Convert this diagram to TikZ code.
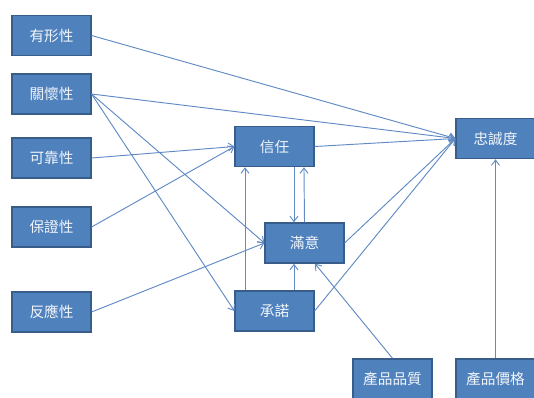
\documentclass[tikz,border=0pt]{standalone}
\usepackage{fontspec}
\newfontfamily\cjk{Noto Sans CJK TC}[Scale=1]
\usetikzlibrary{arrows.meta}
\definecolor{boxfill}{RGB}{79,129,189}
\definecolor{boxline}{RGB}{56,93,138}
\definecolor{arrowc}{RGB}{95,138,196}
\tikzset{
  blok/.style={draw=boxline,line width=1.1pt,fill=boxfill,text=white!92!boxfill,
    minimum width=59pt,minimum height=30pt,inner sep=0pt,font=\cjk\fontsize{11}{13}\selectfont},
  pijl/.style={draw=arrowc,line width=0.7pt,-{Straight Barb[length=4pt,width=6pt]}}
}
\begin{document}
\begin{tikzpicture}[x=0.75pt,y=0.75pt,yscale=-1,xscale=1]
\useasboundingbox (0,0) rectangle (534,397);

% Text Node
\node[blok] (yxx) at (51.5,35.5) {有形性};
% Text Node
\node[blok] (ghx) at (51.5,94) {關懷性};
% Text Node
\node[blok] (kkx) at (51.5,158) {可靠性};
% Text Node
\node[blok] (bzx) at (51.5,227) {保證性};
% Text Node
\node[blok] (fyx) at (51.5,312) {反應性};
% Text Node
\node[blok] (xr) at (274.5,146.5) {信任};
% Text Node
\node[blok] (my) at (304.5,243) {滿意};
% Text Node
\node[blok] (cn) at (274.5,311) {承諾};
% Text Node
\node[blok] (zcd) at (495.5,138.5) {忠誠度};
% Text Node
\node[blok] (cpzl) at (392.5,379) {產品品質};
% Text Node
\node[blok] (cpjg) at (495.5,379) {產品價格};

%Straight Lines
\draw[pijl] (yxx.east) -- (zcd.west);
\draw[pijl] (ghx.east) -- (zcd.west);
\draw[pijl] (ghx.east) -- (my.west);
\draw[pijl] (ghx.east) -- (cn.west);
\draw[pijl] (kkx.east) -- (xr.west);
\draw[pijl] (bzx.east) -- (xr.west);
\draw[pijl] (fyx.east) -- (my.west);
\draw[pijl] (xr.east) -- (zcd.west);
\draw[pijl] (my.east) -- (zcd.west);
\draw[pijl] (cn.east) -- (zcd.west);
%Vertical Lines
\draw[pijl] ([xshift=14.6pt]xr.south) -- ([xshift=-7.9pt]my.north);
\draw[pijl] (my.north) -- ([xshift=22.1pt]xr.south);
\draw[pijl] ([xshift=-22.1pt]cn.north) -- ([xshift=-22.1pt]xr.south);
\draw[pijl] ([xshift=14.6pt]cn.north) -- ([xshift=-7.9pt]my.south);
\draw[pijl] (cpzl.north) -- ([xshift=7.9pt]my.south);
\draw[pijl] (cpjg.north) -- (zcd.south);

\end{tikzpicture}
\end{document}
